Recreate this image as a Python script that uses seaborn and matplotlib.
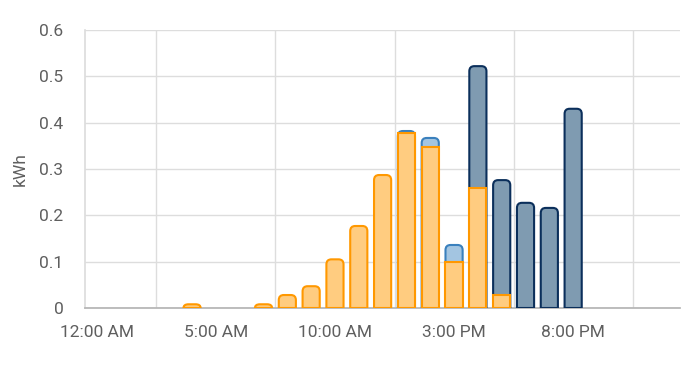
import matplotlib
matplotlib.use("Agg")
import matplotlib.pyplot as plt
import matplotlib.ticker as mticker
from matplotlib.path import Path
from matplotlib.patches import PathPatch
import numpy as np
import pandas as pd
import seaborn as sns

sns.set_theme(style="white")
plt.rcParams['font.family'] = ['Roboto', 'DejaVu Sans']

hours = list(range(24))
solar = [0, 0, 0, 0, 0.008, 0, 0, 0.008, 0.028, 0.047, 0.105, 0.177,
         0.287, 0.378, 0.347, 0.099, 0.259, 0.028, 0, 0, 0, 0, 0, 0]
grid_low = [0, 0, 0, 0, 0, 0, 0, 0, 0, 0, 0, 0,
            0, 0.004, 0.020, 0.037, 0, 0, 0, 0, 0, 0, 0, 0]
grid_high = [0, 0, 0, 0, 0, 0, 0, 0, 0, 0, 0, 0,
             0, 0, 0, 0, 0.263, 0.248, 0.227, 0.216, 0.430, 0, 0, 0]
tick_hours = [0, 5, 10, 15, 20]
tick_labels = ["12:00 AM", "5:00 AM", "10:00 AM", "3:00 PM", "8:00 PM"]

df = pd.DataFrame({"hour": hours, "solar": solar, "low": grid_low, "high": grid_high})
df["t_solar"] = df["solar"].where(df["solar"] > 0)
df["t_low"] = (df["solar"] + df["low"]).where(df["low"] > 0)
df["t_high"] = (df["solar"] + df["low"] + df["high"]).where(df["high"] > 0)
df["top"] = np.where(df["high"] > 0, "t_high", np.where(df["low"] > 0, "t_low", "t_solar"))

fig, ax = plt.subplots(figsize=(6.9, 3.66), dpi=100)
fig.subplots_adjust(left=0.123, right=0.986, bottom=0.1585, top=0.918)
ax.set_xlim(-0.5, 24.5)
ax.set_ylim(0, 0.6)


def round_top(rect, rx, ry):
    # rounded top corners, square bottom, like the chart.js bars
    x0, y0 = rect.get_x(), rect.get_y()
    x1, y1 = x0 + rect.get_width(), y0 + rect.get_height()
    ry = min(ry, rect.get_height())
    verts = [(x0, y0), (x0, y1 - ry), (x0, y1), (x0 + rx, y1),
             (x1 - rx, y1), (x1, y1), (x1, y1 - ry), (x1, y0), (x0, y0)]
    codes = [Path.MOVETO, Path.LINETO, Path.CURVE3, Path.CURVE3,
             Path.LINETO, Path.CURVE3, Path.CURVE3, Path.LINETO, Path.CLOSEPOLY]
    p = PathPatch(Path(verts, codes), facecolor=rect.get_facecolor(),
                  edgecolor=rect.get_edgecolor(), linewidth=rect.get_linewidth(),
                  zorder=rect.get_zorder())
    rect.remove()
    ax.add_patch(p)


# draw totals first, lower layers on top
layers = [("t_high", "#7f9bb1", "#0b2f5b"),
          ("t_low", "#a3c5e1", "#3a80bd"),
          ("t_solar", "#ffcc80", "#ff9800")]
for col, fill, edge in layers:
    d = df.dropna(subset=[col])
    before = len(ax.patches)
    sns.barplot(data=d, x="hour", y=col, native_scale=True, width=0.72,
                color=fill, edgecolor=edge, linewidth=1.5, saturation=1,
                ax=ax, zorder=3)
    new = list(ax.patches)[before:]
    for rect, is_top in zip(new, (d["top"] == col).tolist()):
        if is_top:
            round_top(rect, 0.21, 0.011)

ax.set_xlim(-0.5, 24.5)
ax.set_ylim(0, 0.6)
ax.set_xticks(tick_hours)
ax.set_xticklabels(tick_labels)
ax.set_xticks(np.arange(2.5, 24, 5), minor=True)
ax.set_yticks(np.arange(0, 0.61, 0.1))
ax.yaxis.set_major_formatter(mticker.FuncFormatter(lambda v, p: "0" if v == 0 else f"{v:.1f}"))

ax.grid(axis="y", color="#dddddd", linewidth=1, zorder=0)
ax.grid(axis="x", which="minor", color="#dddddd", linewidth=1, zorder=0)
ax.grid(axis="x", which="major", visible=False)
ax.tick_params(axis="x", which="major", length=0, pad=12, labelsize=12.5, labelcolor="#5f5f5f")
ax.tick_params(axis="x", which="minor", length=12, color="#dddddd", width=1)
ax.tick_params(axis="y", length=12, color="#dddddd", width=1, pad=3.5, labelsize=12.5, labelcolor="#5f5f5f")

for s in ["top", "right"]:
    ax.spines[s].set_visible(False)
ax.spines["left"].set_color("#dddddd")
ax.spines["bottom"].set_color("#b5b5b5")

ax.set_xlabel("")
ax.set_ylabel("kWh", fontsize=12.5, color="#5f5f5f", labelpad=8)

fig.savefig("out.png", dpi=100)
